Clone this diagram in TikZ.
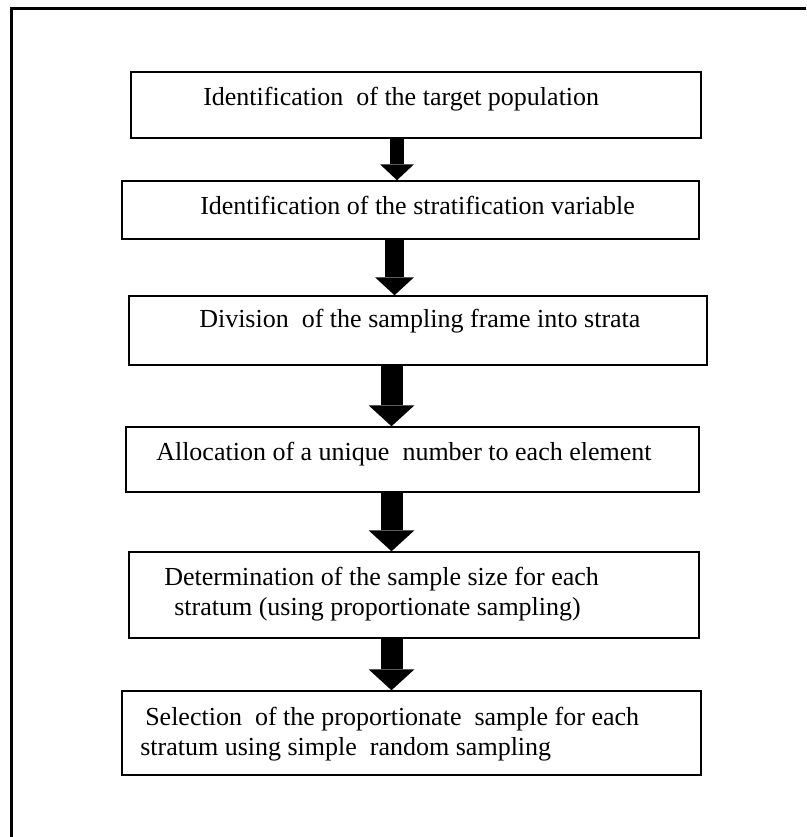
\documentclass[tikz,border=0pt]{standalone}
\usepackage{fontspec}
\setmainfont{Liberation Serif}
\usetikzlibrary{arrows.meta,fit}
\begin{document}
\begin{tikzpicture}[x=0.75pt,y=-0.75pt,
  stepbox/.style={draw=black, line width=1.1pt, inner sep=0pt},
  steptext/.style={anchor=base west, inner sep=0pt, font=\fontsize{19.5}{22.5}\selectfont},
  % block arrow: shaft width, head length, head width
  flow/.style n args={3}{line width=#1, -{Triangle[length=#2, width=#3, line width=0pt]}}]
\useasboundingbox (0,0) rectangle (806,837);

% outer frame (left and top edges)
\draw[line width=2.25pt, line join=miter] (11,837) -- (11,8.5) -- (806,8.5);

% process boxes
\node[stepbox, fit={(131,72) (701,138)}] (b1) {};
\node[stepbox, fit={(122,181) (699,239)}] (b2) {};
\node[stepbox, fit={(129,296) (707,365)}] (b3) {};
\node[stepbox, fit={(126,427) (699,492)}] (b4) {};
\node[stepbox, fit={(129,552) (699,638)}] (b5) {};
\node[stepbox, fit={(122,691) (701,775)}] (b6) {};

% box texts
\node[steptext] (t1) at (203,106) {Identification\ \ of the target population};
\node[steptext] (t2) at (200,215) {Identification of the stratification variable};
\node[steptext] (t3) at (199,328) {Division\ \ of the sampling frame into strata};
\node[steptext] (t4) at (156,460) {Allocation of a unique\ \ number to each element};
\node[steptext] (t5a) at (164,585) {Determination of the sample size for each};
\node[steptext] (t5b) at (174,615) {stratum (using proportionate sampling)};
\node[steptext] (t6a) at (145,725) {Selection\ \ of the proportionate\ \ sample for each};
\node[steptext] (t6b) at (140,755) {stratum using simple\ \ random sampling};

% arrow axes
\coordinate (a1) at (397,0);
\coordinate (a2) at (394.5,0);
\coordinate (a3) at (391.5,0);

% connectors
\draw[flow={10.5pt}{12pt}{25.5pt}] (b1.south -| a1) -- (b2.north -| a1);
\draw[flow={14.25pt}{13.5pt}{29.25pt}] (b2.south -| a2) -- (b3.north -| a2);
\draw[flow={16.5pt}{15.75pt}{34.5pt}] (b3.south -| a3) -- (b4.north -| a3);
\draw[flow={16.5pt}{15.75pt}{34.5pt}] (b4.south -| a3) -- (b5.north -| a3);
\draw[flow={16.5pt}{15.75pt}{34.5pt}] (b5.south -| a3) -- (b6.north -| a3);
\end{tikzpicture}
\end{document}
